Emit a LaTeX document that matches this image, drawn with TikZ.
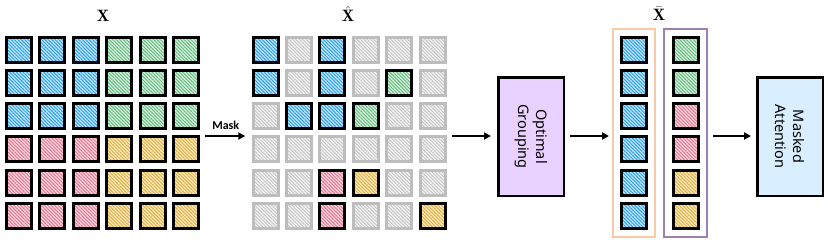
\documentclass[tikz,border=0pt]{standalone}
\usepackage{fontspec}
\newfontfamily\boxfont{Noto Sans}
\newfontfamily\maskfont{Carlito}
\usetikzlibrary{patterns.meta,arrows.meta,fit}
\definecolor{blueD}{HTML}{1E9BF0}
\definecolor{blueL}{HTML}{C4E6FC}
\definecolor{greenD}{HTML}{5DB978}
\definecolor{greenL}{HTML}{D8F0DF}
\definecolor{pinkD}{HTML}{E5708C}
\definecolor{pinkL}{HTML}{F9D6DF}
\definecolor{yelD}{HTML}{E0AE3A}
\definecolor{yelL}{HTML}{F8E8C0}
\definecolor{grayD}{HTML}{C4C4C4}
\definecolor{grayL}{HTML}{F3F3F3}
\definecolor{grayB}{HTML}{BDBDBD}
\definecolor{peach}{HTML}{F8C9A8}
\definecolor{lilac}{HTML}{9B80B5}
\definecolor{ogfill}{HTML}{E9D2FF}
\definecolor{mafill}{HTML}{D9EEFF}
\tikzset{
  hatch/.style 2 args={preaction={fill=#1},
    pattern={Lines[angle=-45,distance=2.4pt,line width=0.9pt]}, pattern color=#2},
  cell/.style={draw=black, line width=3pt, minimum size=25pt, inner sep=0pt},
  cellB/.style={cell, hatch={blueL}{blueD}},
  cellG/.style={cell, hatch={greenL}{greenD}},
  cellP/.style={cell, hatch={pinkL}{pinkD}},
  cellY/.style={cell, hatch={yelL}{yelD}},
  cellN/.style={cell, draw=grayB, hatch={grayL}{grayD}},
  arr/.style={line width=2pt, -{Triangle[length=7pt,width=7pt]}},
  bigbox/.style={draw=black, line width=2.5pt, rotate=-90, align=center,
    minimum width=118.5pt, minimum height=65.5pt, inner sep=0pt,
    font=\boxfont\fontsize{14.5}{18}\selectfont},
  grp/.style={line width=2pt, minimum width=42pt, minimum height=208pt, inner sep=0pt},
  lab/.style={font=\fontsize{16.5}{18}\selectfont, inner sep=1pt}
}
\begin{document}
\begin{tikzpicture}[x=1pt,y=-1pt]
\useasboundingbox (0,0) rectangle (828,239);
% left grid
\foreach \row [count=\r from 0] in {{B,B,B,G,G,G},{B,B,B,G,G,G},{B,B,B,G,G,G},{P,P,P,Y,Y,Y},{P,P,P,Y,Y,Y},{P,P,P,Y,Y,Y}}
  \foreach \k [count=\c from 0] in \row
    \node[cell\k] (L-\r-\c) at ({19+33.4*\c},{49.5+33.3*\r}) {};
% middle grid
\foreach \row [count=\r from 0] in {{B,N,B,N,N,N},{B,N,B,N,G,N},{N,B,B,G,N,N},{N,N,N,N,N,N},{N,N,P,Y,N,N},{N,N,P,N,N,Y}}
  \foreach \k [count=\c from 0] in \row
    \node[cell\k] (M-\r-\c) at ({265.5+33.4*\c},{49.5+33.3*\r}) {};
% grouped columns
\foreach \r in {0,...,5}
  \node[cellB] (B-\r) at (633.5,{49.5+33.3*\r}) {};
\foreach \k [count=\r from 0] in {G,G,P,P,Y,Y}
  \node[cell\k] (C-\r) at (685.5,{49.5+33.3*\r}) {};
\node[grp, draw=peach] (grpA) at (634,133) {};
\node[grp, draw=lilac, minimum width=43pt] (grpB) at (685.5,133) {};
% fit nodes for grids
\node[fit=(L-0-0)(L-5-5), inner sep=0pt] (gridL) {};
\node[fit=(M-0-0)(M-5-5), inner sep=0pt] (gridM) {};
% labels
\node[lab] (xl) at (103,16) {$\mathbf{X}$};
\node[lab] (xh) at (348,14) {$\hat{\mathbf{X}}$};
\node[lab] (xb) at (659,14) {$\bar{\mathbf{X}}$};
% boxes
\node[bigbox, fill=ogfill] (OG) at (531,136.5) {Optimal\\Grouping};
\node[bigbox, fill=mafill] (MA) at (790,136.5) {Masked\\Attention};
% arrows
\coordinate (ay) at (0,136);
\draw[arr, shorten <=5pt, shorten >=6pt] (gridL.east |- ay) -- (gridM.west |- ay)
  node[midway, above=2pt, font=\maskfont\bfseries\fontsize{12}{14}\selectfont] (mask) {Mask};
\draw[arr, shorten <=5.5pt, shorten >=6pt] (gridM.east |- ay) -- (OG.south |- ay);
\draw[arr, shorten <=5pt, shorten >=3pt] (OG.north |- ay) -- (grpA.west |- ay);
\draw[arr, shorten <=5pt, shorten >=5pt] (grpB.east |- ay) -- (MA.south |- ay);
\end{tikzpicture}
\end{document}
